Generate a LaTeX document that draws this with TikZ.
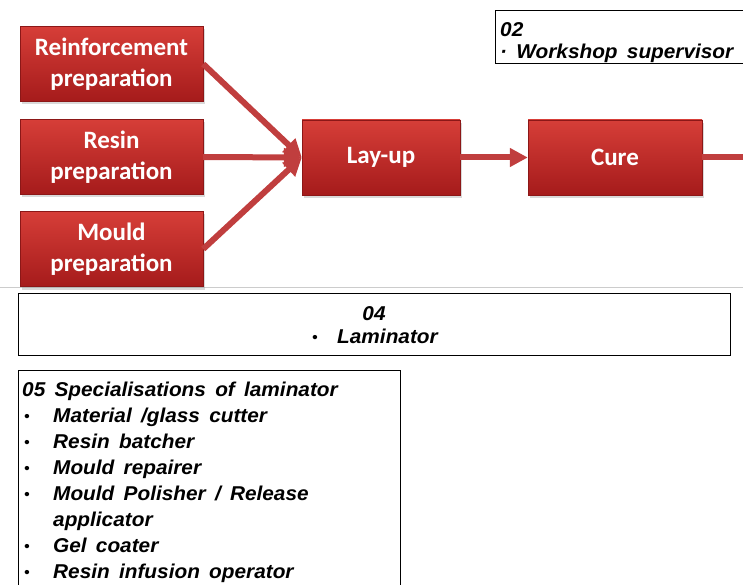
\documentclass[tikz,border=0pt]{standalone}
\usepackage{fontspec}
\setmainfont{Liberation Sans}[FakeStretch=1.04, WordSpace=1.6]
\newfontfamily\boxfont{Carlito}
\usetikzlibrary{arrows.meta,shadows}
\definecolor{redtop}{RGB}{214,62,56}
\definecolor{redbot}{RGB}{165,27,27}
\definecolor{flowred}{RGB}{192,62,62}
\newcommand\dotmark{\raisebox{1pt}{\fontsize{15}{15}\selectfont •}}
\begin{document}
\begin{tikzpicture}[x=1pt,y=-1pt,
  redbox/.style={minimum width=#1, minimum height=75pt, inner sep=0pt,
    top color=redtop, bottom color=redbot, draw=redbot!85!black, line width=0.4pt,
    drop shadow={opacity=0.3,shadow xshift=2pt,shadow yshift=-3pt},
    text=white, font=\boxfont\bfseries\fontsize{25}{31}\selectfont, align=center},
  flow/.style={draw=flowred, line width=6pt, -{Triangle[length=18pt,width=18pt]}},
  infobox/.style={draw=black, line width=1.2pt, fill=white, inner sep=0pt},
  lbl/.style={font=\bfseries\itshape\fontsize{20}{26}\selectfont, inner sep=0pt},
]
\useasboundingbox (0,0) rectangle (743,585);

% edge of the backdrop panel behind the process chain
\draw[black!20, line width=1pt] (0,287) -- (743,287);

% process chain
\node[redbox=183pt] (reinf) at (111.5,64) {Reinforcement\\preparation};
\node[redbox=183pt] (resin) at (111.5,157) {Resin\\preparation};
\node[redbox=183pt] (mould) at (111.5,249) {Mould\\preparation};
\node[redbox=158pt] (layup) at (381,157.5) {Lay-up};
\node[redbox=174pt] (cure)  at (615,157.5) {Cure};
\coordinate (onward) at (770,157.5);

\draw[flow] (reinf.east) -- (layup.west);
\draw[flow] (resin.east) -- (layup.west);
\draw[flow] (mould.east) -- (layup.west);
\draw[flow] (layup.east) -- (cure.west);
\draw[draw=flowred, line width=6pt] (cure.east) -- (onward);

% role boxes
\node[infobox, anchor=north west, minimum width=270pt, minimum height=53pt] (sup) at (495,10) {};
\node[lbl, anchor=base west] (supnum) at (500,37) {02};
\node[lbl, anchor=base west] (suptxt) at (500,59) {· Workshop supervisor};

\node[infobox, anchor=north west, minimum width=712pt, minimum height=62pt] (lam) at (18,293) {};
\node[lbl, anchor=base] (lamnum) at (374,320) {04};
\node[lbl, anchor=base west] (lamdot) at (312,343) {\dotmark};
\node[lbl, anchor=base west] (lamtxt) at (337,343) {Laminator};

\node[infobox, anchor=north west, minimum width=382pt, minimum height=240pt] (spec) at (18,370) {};
\node[lbl, anchor=base west] (spechead) at (22,396) {05 Specialisations of laminator};
\foreach \y in {422,448,474,500,552,578}
  \node[lbl, anchor=base west] at (24,\y) {\dotmark};
\node[lbl, anchor=base west] (spec1) at (53,422) {Material /glass cutter};
\node[lbl, anchor=base west] (spec2) at (53,448) {Resin batcher};
\node[lbl, anchor=base west] (spec3) at (53,474) {Mould repairer};
\node[lbl, anchor=base west] (spec4) at (53,500) {Mould Polisher / Release};
\node[lbl, anchor=base west] (spec4b) at (53,526) {applicator};
\node[lbl, anchor=base west] (spec5) at (53,552) {Gel coater};
\node[lbl, anchor=base west] (spec6) at (53,578) {Resin infusion operator};
\end{tikzpicture}
\end{document}
